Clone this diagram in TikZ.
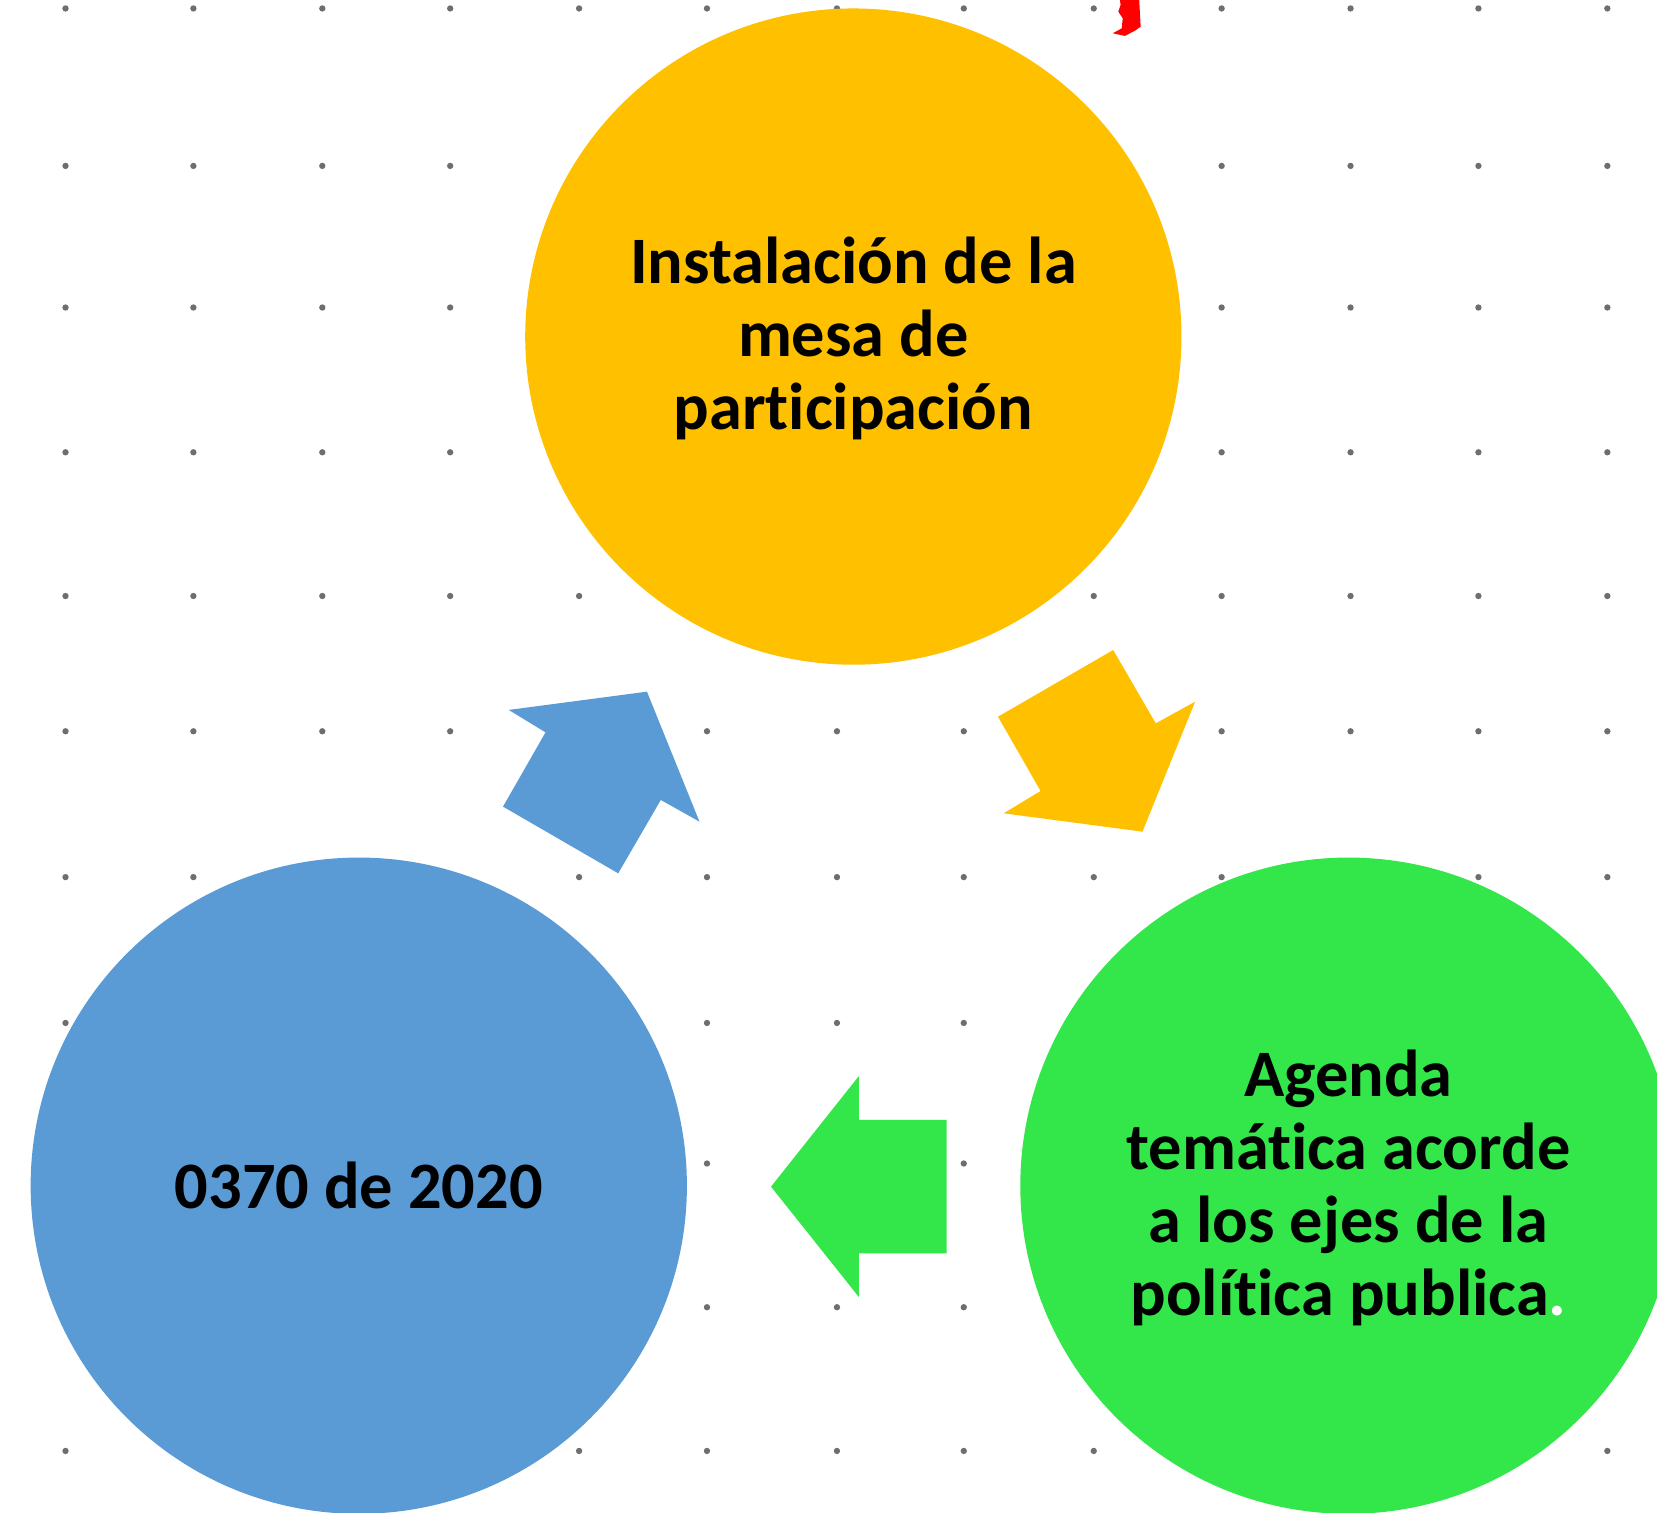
\documentclass[tikz,border=0pt]{standalone}
\usepackage{fontspec}
\setmainfont{Carlito}[Ligatures={NoCommon,NoRare,NoContextual}]
\definecolor{cyellow}{HTML}{FFC000}
\definecolor{cblue}{HTML}{5B9BD5}
\definecolor{cgreen}{HTML}{33E64A}
\definecolor{dotgray}{HTML}{6E6E6E}
\begin{document}
\begin{tikzpicture}[x=1pt,y=-1pt,
  bubble/.style={circle,minimum size=621pt,inner sep=0pt},
  label/.style={align=center,text=black,font=\fontsize{62.8}{69.3}\selectfont\bfseries},
  gdot/.style={fill=dotgray,draw=none}]
\useasboundingbox (0,0) rectangle (1568,1431);
\fill[white] (0,0) rectangle (1568,1431);
% dot grid
\foreach \y in {8,157,291,428,564,692,830,968,1101,1237,1373}{
  \foreach \x in {62,183,305,426,548,669,792,912,1035,1156,1278,1399,1521}{
    \fill[gdot] (\x,\y) circle (3pt);
  }
}
% red mark
\fill[red] (1059.8,0) -- (1078,0) -- (1079.4,25.3) -- (1074,29) -- (1064.5,34) -- (1053,31.5) -- (1061.5,26.8) -- (1062.4,17.3) -- (1058.2,11) -- (1060.4,4.7) -- cycle;
% circles
\node[bubble,fill=cyellow] (top) at (807.5,318.5) {};
\node[bubble,fill=cblue] (left) at (339.5,1122) {};
\node[bubble,fill=cgreen] (right) at (1276,1122) {};
% arrows
\fill[cblue] (481.4,671.8) -- (612.2,654.5) -- (661.9,777.5) -- (625.3,757) -- (585,826.4) -- (476,763.3) -- (516.2,693) -- cycle;
\fill[cyellow] (944.4,678.2) -- (1053.4,615.1) -- (1093.7,684.5) -- (1130.9,664) -- (1081.1,787) -- (949.8,769.6) -- (984.7,748.5) -- cycle;
\fill[cgreen] (729.6,1122.9) -- (812.8,1018.2) -- (812.8,1059.8) -- (895.8,1059.8) -- (895.8,1186) -- (812.8,1186) -- (812.8,1227.4) -- cycle;
% texts
\node[label,yshift=-2pt] (ttop) at (top.center) {Instalación de la\\mesa de\\participación};
\node[label] (tleft) at (left.center) {0370 de 2020};
\node[label,yshift=-2pt] (tright) at (right.center) {Agenda\\temática acorde\\a los ejes de la\\política publica\textcolor{white}{.}};
\end{tikzpicture}
\end{document}
